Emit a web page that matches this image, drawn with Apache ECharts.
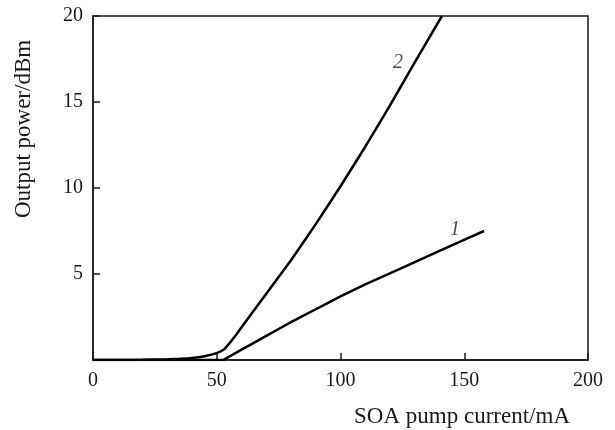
<!DOCTYPE html>
<html>
<head>
<meta charset="utf-8">
<script src="https://cdn.jsdelivr.net/npm/echarts@6/dist/echarts.min.js"></script>
<style>
  html, body { margin: 0; padding: 0; background: #fff; }
  #chart { width: 615px; height: 430px; }
</style>
</head>
<body>
<div id="chart"></div>
<script>
// Curve 1
const curve1X = [0, 20, 40, 52.5, 55, 60, 70, 80, 90, 100, 110, 124, 140, 158];
const curve1Y = [0, 0, 0, 0, 0.2, 0.6, 1.4, 2.2, 2.95, 3.7, 4.4, 5.3, 6.35, 7.5];
// Curve 2
const curve2X = [0, 10, 20, 30, 35, 40, 45, 50, 53, 55, 58, 60, 70, 80, 90, 100, 110, 120, 130, 141];
const curve2Y = [0, 0, 0.01, 0.04, 0.07, 0.12, 0.22, 0.4, 0.62, 0.95, 1.5, 1.9, 3.85, 5.8, 7.9, 10.1, 12.4, 14.8, 17.3, 20];
// Curve labels
const labelText = ['1', '2'];
const labelX = [146.3, 123.2];
const labelY = [7.6, 17.3];
// Axes
const xTicks = [0, 50, 100, 150, 200];
const yTicks = [5, 10, 15, 20];
const xTitle = 'SOA pump current/mA';
const yTitle = 'Output power/dBm';

const zip = (a, b) => a.map((v, i) => [v, b[i]]);
const font = 'Liberation Serif';
const ink = '#1a1a1a';

const chart = echarts.init(document.getElementById('chart'), null, { renderer: 'canvas' });
chart.setOption({
  animation: false,
  backgroundColor: '#fff',
  grid: { left: 93, top: 16, right: 27, bottom: 70, show: true, borderColor: ink, borderWidth: 1.5, backgroundColor: 'transparent' },
  xAxis: {
    type: 'value', min: xTicks[0], max: xTicks[xTicks.length - 1], interval: 50,
    name: xTitle, nameLocation: 'end', nameGap: -18,
    nameTextStyle: { fontFamily: font, fontSize: 23, color: ink, align: 'right', verticalAlign: 'top', padding: [45, 0, 0, 0] },
    axisLine: { show: true, lineStyle: { color: ink, width: 1.5 } },
    axisTick: { show: true, inside: true, length: 7, lineStyle: { color: ink, width: 1.5 } },
    axisLabel: { fontFamily: font, fontSize: 20, color: ink, margin: 11,
      formatter: v => xTicks.includes(v) ? String(v) : '' },
    splitLine: { show: false }
  },
  yAxis: {
    type: 'value', min: 0, max: 20, interval: 5,
    name: yTitle, nameLocation: 'middle', nameGap: 58,
    nameTextStyle: { fontFamily: font, fontSize: 23, color: ink, padding: [0, 0, 0, 118] },
    axisLine: { show: true, lineStyle: { color: ink, width: 1.5 } },
    axisTick: { show: true, inside: true, length: 7, lineStyle: { color: ink, width: 1.5 } },
    axisLabel: { fontFamily: font, fontSize: 20, color: ink, margin: 10,
      formatter: v => yTicks.includes(v) ? String(v) : '' },
    splitLine: { show: false }
  },
  series: [
    { name: 'curve1', type: 'line', data: zip(curve1X, curve1Y), showSymbol: false, smooth: 0.15,
      lineStyle: { color: '#000', width: 2.5 } },
    { name: 'curve2', type: 'line', data: zip(curve2X, curve2Y), showSymbol: false, smooth: 0.1,
      lineStyle: { color: '#000', width: 2.5 } },
    { name: 'labels', type: 'scatter', symbolSize: 0, silent: true,
      data: labelText.map((t, i) => ({ value: [labelX[i], labelY[i]], name: t })),
      label: { show: true, position: 'inside', formatter: p => p.name,
        fontFamily: font, fontStyle: 'italic', fontSize: 20, color: ink } }
  ]
});
</script>
</body>
</html>
